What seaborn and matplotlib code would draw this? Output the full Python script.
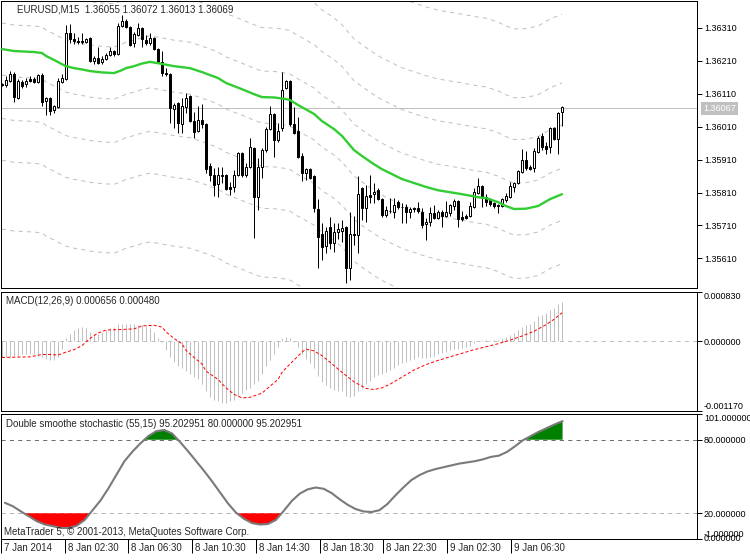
import numpy as np
import pandas as pd
import matplotlib
matplotlib.use("Agg")
import matplotlib.pyplot as plt
import matplotlib.transforms as mtransforms
import seaborn as sns

sns.set_style("white")
plt.rcParams['font.family'] = ['Liberation Sans', 'DejaVu Sans']
plt.rcParams['lines.scale_dashes'] = False
plt.rcParams['axes.linewidth'] = 0.75

# ---------------- data (EURUSD M15) ----------------
open_ = [
    1.36140, 1.36137, 1.36149, 1.36170, 1.36097, 1.36146, 1.36140, 1.36155, 1.36155, 1.36146,
    1.36167, 1.36088, 1.36097, 1.36061, 1.36070, 1.36146, 1.36155, 1.36295, 1.36276, 1.36270,
    1.36270, 1.36267, 1.36279, 1.36210, 1.36219, 1.36207, 1.36216, 1.36228, 1.36240, 1.36231,
    1.36316, 1.36331, 1.36313, 1.36264, 1.36289, 1.36310, 1.36273, 1.36264, 1.36279, 1.36246,
    1.36207, 1.36173, 1.36170, 1.36064, 1.36082, 1.36018, 1.36070, 1.36103, 1.36027, 1.35997,
    1.36030, 1.36018, 1.35890, 1.35863, 1.35836, 1.35863, 1.35863, 1.35827, 1.35827, 1.35863,
    1.35930, 1.35863, 1.35887, 1.35945, 1.35796, 1.35887, 1.35939, 1.36003, 1.36049, 1.35969,
    1.36006, 1.36127, 1.36149, 1.36018, 1.35997, 1.35921, 1.35869, 1.35881, 1.35860, 1.35760,
    1.35684, 1.35647, 1.35705, 1.35656, 1.35690, 1.35693, 1.35705, 1.35580, 1.35684, 1.35681,
    1.35824, 1.35763, 1.35802, 1.35805, 1.35817, 1.35790, 1.35741, 1.35754, 1.35751, 1.35781,
    1.35766, 1.35766, 1.35751, 1.35763, 1.35763, 1.35751, 1.35714, 1.35720, 1.35747, 1.35732,
    1.35751, 1.35738, 1.35747, 1.35769, 1.35784, 1.35735, 1.35738, 1.35738, 1.35766, 1.35808,
    1.35830, 1.35796, 1.35787, 1.35778, 1.35772, 1.35769, 1.35787, 1.35796, 1.35827, 1.35839,
    1.35872, 1.35909, 1.35887, 1.35884, 1.35933, 1.35982, 1.35951, 1.35948, 1.36006, 1.35972,
    1.36055]
high_ = [
    1.36143, 1.36164, 1.36179, 1.36176, 1.36155, 1.36152, 1.36158, 1.36164, 1.36161, 1.36170,
    1.36173, 1.36100, 1.36100, 1.36076, 1.36158, 1.36170, 1.36319, 1.36322, 1.36295, 1.36283,
    1.36295, 1.36279, 1.36283, 1.36225, 1.36252, 1.36225, 1.36234, 1.36252, 1.36243, 1.36325,
    1.36349, 1.36337, 1.36316, 1.36298, 1.36325, 1.36313, 1.36289, 1.36295, 1.36283, 1.36249,
    1.36240, 1.36188, 1.36173, 1.36082, 1.36085, 1.36097, 1.36112, 1.36106, 1.36055, 1.36073,
    1.36079, 1.36021, 1.35900, 1.35884, 1.35887, 1.35887, 1.35866, 1.35842, 1.35878, 1.35933,
    1.35933, 1.35900, 1.35975, 1.35948, 1.35915, 1.35945, 1.36009, 1.36073, 1.36052, 1.36021,
    1.36176, 1.36152, 1.36152, 1.36070, 1.36039, 1.35930, 1.35884, 1.35884, 1.35863, 1.35790,
    1.35717, 1.35705, 1.35735, 1.35717, 1.35717, 1.35726, 1.35708, 1.35751, 1.35738, 1.35860,
    1.35827, 1.35833, 1.35863, 1.35839, 1.35824, 1.35793, 1.35769, 1.35793, 1.35793, 1.35787,
    1.35778, 1.35775, 1.35766, 1.35766, 1.35781, 1.35763, 1.35732, 1.35766, 1.35772, 1.35757,
    1.35757, 1.35784, 1.35775, 1.35790, 1.35787, 1.35754, 1.35744, 1.35781, 1.35824, 1.35854,
    1.35833, 1.35805, 1.35793, 1.35781, 1.35775, 1.35793, 1.35808, 1.35842, 1.35842, 1.35878,
    1.35942, 1.35936, 1.35893, 1.35945, 1.35982, 1.35991, 1.35963, 1.36009, 1.36009, 1.36055,
    1.36072]
low_ = [
    1.36134, 1.36131, 1.36146, 1.36085, 1.36094, 1.36127, 1.36131, 1.36146, 1.36143, 1.36143,
    1.36073, 1.36045, 1.36045, 1.36052, 1.36067, 1.36143, 1.36152, 1.36264, 1.36261, 1.36261,
    1.36261, 1.36264, 1.36207, 1.36200, 1.36200, 1.36200, 1.36213, 1.36225, 1.36225, 1.36228,
    1.36313, 1.36310, 1.36255, 1.36252, 1.36286, 1.36252, 1.36258, 1.36258, 1.36243, 1.36203,
    1.36164, 1.36164, 1.36021, 1.36006, 1.35991, 1.35991, 1.36052, 1.36024, 1.35975, 1.35994,
    1.36006, 1.35869, 1.35845, 1.35799, 1.35796, 1.35839, 1.35817, 1.35802, 1.35811, 1.35860,
    1.35857, 1.35857, 1.35884, 1.35672, 1.35757, 1.35854, 1.35933, 1.36000, 1.35918, 1.35963,
    1.35997, 1.36124, 1.36012, 1.35988, 1.35915, 1.35845, 1.35848, 1.35851, 1.35751, 1.35580,
    1.35605, 1.35626, 1.35638, 1.35629, 1.35669, 1.35659, 1.35535, 1.35544, 1.35650, 1.35626,
    1.35726, 1.35720, 1.35778, 1.35778, 1.35787, 1.35735, 1.35735, 1.35747, 1.35732, 1.35760,
    1.35717, 1.35717, 1.35732, 1.35751, 1.35747, 1.35702, 1.35665, 1.35708, 1.35729, 1.35729,
    1.35705, 1.35735, 1.35738, 1.35757, 1.35705, 1.35723, 1.35729, 1.35735, 1.35763, 1.35805,
    1.35766, 1.35769, 1.35769, 1.35763, 1.35747, 1.35766, 1.35781, 1.35793, 1.35811, 1.35836,
    1.35869, 1.35878, 1.35878, 1.35872, 1.35930, 1.35939, 1.35927, 1.35930, 1.35969, 1.35927,
    1.36013]
close_ = [
    1.36137, 1.36152, 1.36170, 1.36100, 1.36149, 1.36134, 1.36149, 1.36149, 1.36146, 1.36167,
    1.36085, 1.36097, 1.36058, 1.36073, 1.36149, 1.36158, 1.36295, 1.36276, 1.36270, 1.36267,
    1.36268, 1.36276, 1.36210, 1.36219, 1.36203, 1.36216, 1.36228, 1.36240, 1.36231, 1.36316,
    1.36331, 1.36313, 1.36258, 1.36292, 1.36310, 1.36276, 1.36264, 1.36279, 1.36246, 1.36207,
    1.36173, 1.36170, 1.36067, 1.36076, 1.36021, 1.36073, 1.36097, 1.36027, 1.35994, 1.36030,
    1.36018, 1.35881, 1.35863, 1.35833, 1.35863, 1.35860, 1.35820, 1.35820, 1.35863, 1.35930,
    1.35863, 1.35887, 1.35948, 1.35796, 1.35887, 1.35939, 1.36003, 1.36049, 1.35969, 1.35997,
    1.36121, 1.36149, 1.36018, 1.35991, 1.35918, 1.35869, 1.35881, 1.35854, 1.35763, 1.35675,
    1.35644, 1.35693, 1.35656, 1.35690, 1.35699, 1.35702, 1.35580, 1.35684, 1.35681, 1.35805,
    1.35763, 1.35799, 1.35796, 1.35811, 1.35790, 1.35741, 1.35757, 1.35755, 1.35772, 1.35766,
    1.35767, 1.35751, 1.35760, 1.35760, 1.35754, 1.35711, 1.35720, 1.35747, 1.35732, 1.35751,
    1.35738, 1.35751, 1.35772, 1.35784, 1.35729, 1.35729, 1.35732, 1.35769, 1.35811, 1.35830,
    1.35796, 1.35781, 1.35775, 1.35769, 1.35770, 1.35790, 1.35799, 1.35830, 1.35839, 1.35875,
    1.35909, 1.35884, 1.35881, 1.35936, 1.35975, 1.35948, 1.35942, 1.36006, 1.35972, 1.36052,
    1.36069]

# green moving average (read at selected bars)
ma_idx = [0, 3, 8, 10, 11, 13, 15, 16, 18, 20, 22, 25, 28, 30, 31, 33, 35, 37, 39, 43,
          47, 50, 54, 56, 60, 63, 65, 68, 71, 72, 74, 78, 80, 83, 85, 88, 90, 93, 95, 98,
          100, 103, 106, 109, 112, 115, 119, 121, 124, 126, 128, 131, 134, 137, 140]
ma_val = [1.36246, 1.36240, 1.36237, 1.36234, 1.36225, 1.36213, 1.36200, 1.36194, 1.36188, 1.36184,
          1.36179, 1.36175, 1.36173, 1.36182, 1.36188, 1.36194, 1.36202, 1.36207, 1.36203, 1.36194,
          1.36188, 1.36176, 1.36158, 1.36143, 1.36124, 1.36109, 1.36100, 1.36099, 1.36094, 1.36091,
          1.36076, 1.36049, 1.36027, 1.36003, 1.35982, 1.35939, 1.35921, 1.35896, 1.35881, 1.35863,
          1.35851, 1.35839, 1.35827, 1.35817, 1.35811, 1.35805, 1.35796, 1.35793, 1.35781, 1.35769,
          1.35760, 1.35761, 1.35769, 1.35790, 1.35805]
# envelope distances of the dotted bands around the average
env_offsets = [0.00079, 0.00211, 0.00338, 0.00547]

price_ticks = [1.36310, 1.36210, 1.36110, 1.36010, 1.35910, 1.35810, 1.35710, 1.35610]
last_price = 1.36067

# MACD histogram (main line) and signal
macd_hist = [
    -0.00027, -0.00027, -0.00027, -0.00024, -0.00024, -0.00021, -0.00021, -0.00021, -0.00022, -0.00024,
    -0.00027, -0.00029, -0.00031, -0.00031, -0.00027, -0.00013, 0.00005, 0.00013, 0.00019, 0.00022,
    0.00025, 0.00022, 0.00016, 0.00013, 0.00013, 0.00016, 0.00019, 0.00022, 0.00025, 0.00030,
    0.00030, 0.00030, 0.00030, 0.00029, 0.00027, 0.00027, 0.00026, 0.00023, 0.00016, 0.00005,
    -0.00001, -0.00015, -0.00027, -0.00035, -0.00041, -0.00044, -0.00050, -0.00055, -0.00060, -0.00064,
    -0.00072, -0.00084, -0.00094, -0.00098, -0.00101, -0.00104, -0.00104, -0.00101, -0.00098, -0.00092,
    -0.00087, -0.00081, -0.00078, -0.00072, -0.00067, -0.00055, -0.00041, -0.00032, -0.00021, -0.00010,
    0.00005, 0.00007, 0.00005, -0.00001, -0.00010, -0.00022, -0.00030, -0.00037, -0.00045, -0.00058,
    -0.00068, -0.00073, -0.00079, -0.00082, -0.00083, -0.00084, -0.00092, -0.00093, -0.00092, -0.00083,
    -0.00078, -0.00072, -0.00066, -0.00060, -0.00056, -0.00054, -0.00051, -0.00048, -0.00044, -0.00040,
    -0.00037, -0.00035, -0.00032, -0.00030, -0.00027, -0.00028, -0.00028, -0.00026, -0.00024, -0.00022,
    -0.00020, -0.00018, -0.00015, -0.00012, -0.00012, -0.00011, -0.00010, -0.00007, -0.00003, 0.00001,
    0.00002, 0.00003, 0.00003, 0.00003, 0.00003, 0.00005, 0.00007, 0.00011, 0.00014, 0.00019,
    0.00025, 0.00028, 0.00030, 0.00035, 0.00042, 0.00045, 0.00047, 0.00053, 0.00056, 0.00062,
    0.000656]
sig_idx = [0, 7, 10, 12, 14, 16, 18, 20, 22, 24, 26, 30, 33, 35, 38, 40, 41, 43, 45, 46,
           48, 50, 51, 54, 56, 58, 60, 62, 65, 66, 69, 70, 72, 75, 76, 78, 80, 82, 85, 88,
           91, 93, 95, 97, 100, 103, 106, 109, 112, 115, 118, 121, 124, 127, 130, 133, 136, 138, 140]
sig_val = [-0.00027, -0.00026, -0.00022, -0.00022, -0.00023, -0.00018, -0.00014, -0.00007, 0.00005, 0.00014,
           0.00019, 0.00020, 0.00021, 0.00026, 0.00027, 0.00024, 0.00016, 0.00005, -0.00004, -0.00015,
           -0.00027, -0.00038, -0.00050, -0.00064, -0.00078, -0.00089, -0.00095, -0.00094, -0.00087, -0.00081,
           -0.00064, -0.00052, -0.00038, -0.00018, -0.00013, -0.00016, -0.00024, -0.00035, -0.00052, -0.00068,
           -0.00079, -0.00081, -0.00078, -0.00072, -0.00060, -0.00048, -0.00039, -0.00032, -0.00026, -0.00020,
           -0.00014, -0.00009, -0.00004, 0.00002, 0.00009, 0.00017, 0.00028, 0.00037, 0.00048]
macd_ticks = [0.00083, 0.0, -0.00117]
macd_labels = ["0.000830", "0.000000", "-0.001170"]

# Double smoothed stochastic
stoch_idx = list(range(0, 141, 2))
stoch_val = [28.5, 25.7, 21.5, 17.5, 13.5, 10.8, 9.5, 8.0, 8.0, 9.8,
             14.5, 22.5, 30.5, 40.5, 51.5, 62.5, 70.3, 77.0, 83.0, 87.0,
             88.0, 85.0, 78.0, 70.5, 62.5, 54.5, 46.0, 37.0, 28.0, 20.5,
             15.5, 12.0, 10.8, 11.2, 14.5, 22.0, 30.0, 36.0, 39.5, 41.0,
             40.0, 36.5, 31.5, 27.0, 23.5, 21.5, 21.0, 22.5, 27.5, 34.5,
             41.0, 47.0, 51.0, 54.0, 56.0, 57.5, 59.0, 60.5, 61.5, 62.5,
             64.0, 66.0, 67.0, 70.0, 74.5, 79.5, 83.0, 86.5, 89.5, 92.5,
             95.2]
stoch_ticks = [101, 80, 20, 0, -1]
stoch_labels = ["101.000000", "80.000000", "20.000000", "0.000000", "-1.000000"]

time_idx = [-1, 15, 31, 47, 63, 79, 95, 111, 127]
time_labels = ["7 Jan 2014", "8 Jan 02:30", "8 Jan 06:30", "8 Jan 10:30", "8 Jan 14:30",
               "8 Jan 18:30", "8 Jan 22:30", "9 Jan 02:30", "9 Jan 06:30"]

# ---------------- figure ----------------
W, H = 750, 560
fig = plt.figure(figsize=(W / 100, H / 100), dpi=100)
fig.patch.set_facecolor("white")


def rect(top, bottom, left=1, right=697):
    return [left / W, 1 - bottom / H, (right - left) / W, (bottom - top) / H]


ax1 = fig.add_axes(rect(1, 288))
ax2 = fig.add_axes(rect(292, 411))
ax3 = fig.add_axes(rect(414, 539))
FS = 7      # captions and time labels
FSY = 6.5   # price scale labels
PX = 0.72   # one pixel in points

# ---- main price panel ----
bars = pd.DataFrame({"i": np.arange(len(close_)), "open": open_, "high": high_,
                     "low": low_, "close": close_})
up = bars["close"] >= bars["open"]
ax1.axhline(last_price, color="#c0c0c0", lw=PX, zorder=1)
ma = pd.DataFrame({"i": ma_idx, "ma": ma_val})
for off in env_offsets:
    for sgn in (1, -1):
        sns.lineplot(x=ma["i"], y=ma["ma"] + sgn * off, ax=ax1, color="#c0c0c0",
                     linewidth=PX, linestyle=(0, (3, 3)), zorder=1)
ax1.vlines(bars["i"], bars["low"], bars["high"], color="black", lw=PX, zorder=3)
ax1.bar(bars["i"][up], (bars["close"] - bars["open"])[up], bottom=bars["open"][up],
        width=0.5, facecolor="white", edgecolor="black", linewidth=PX, zorder=4)
ax1.bar(bars["i"][~up], (bars["close"] - bars["open"])[~up], bottom=bars["open"][~up],
        width=0.5, facecolor="black", edgecolor="black", linewidth=PX, zorder=4)
sns.lineplot(data=ma, x="i", y="ma", ax=ax1, color="#32cd32", linewidth=1.7, zorder=5)
ax1.set_ylim(1.35520, 1.36392)
ax1.set_yticks(price_ticks)
ax1.set_yticklabels([f"{v:.5f}" for v in price_ticks])

# ---- MACD panel ----
ax2.axhline(0, color="#c0c0c0", lw=PX, linestyle=(0, (3, 3)), zorder=1)
ax2.vlines(np.arange(len(macd_hist)), 0, macd_hist, color="#c0c0c0", lw=PX, zorder=2)
sns.lineplot(x=sig_idx, y=sig_val, ax=ax2, color="red", linewidth=PX,
             linestyle=(0, (2.2, 1.5)), zorder=3)
ax2.set_ylim(-0.00117, 0.00083)
ax2.set_yticks(macd_ticks)
ax2.set_yticklabels(macd_labels)

# ---- stochastic panel ----
sv = np.array(stoch_val)
si = np.array(stoch_idx)
ax3.axhline(80, color="#707070", lw=PX, linestyle=(0, (3, 3)), zorder=1)
ax3.axhline(20, color="#b4b4b4", lw=PX, linestyle=(0, (3, 3)), zorder=1)
ax3.fill_between(si, sv, 80, where=sv > 80, interpolate=True, color="#008000", lw=0, zorder=2)
ax3.fill_between(si, sv, 20, where=sv < 20, interpolate=True, color="#ff0000", lw=0, zorder=2)
sns.lineplot(x=si, y=sv, ax=ax3, color="#7a7a7a", linewidth=1.5, zorder=3)
ax3.set_ylim(-1, 101)
ax3.set_yticks(stoch_ticks)
ax3.set_yticklabels(stoch_labels)

# ---- common axis styling ----
for ax in (ax1, ax2, ax3):
    ax.set_xlim(-0.25, 173.75)
    ax.set_facecolor("white")
    ax.grid(False)
    ax.set_xlabel("")
    ax.set_ylabel("")
    for s in ax.spines.values():
        s.set_visible(True)
        s.set_color("black")
        s.set_linewidth(PX)
    ax.tick_params(axis="y", which="both", direction="out", length=3.5, width=PX, pad=1.5,
                   labelsize=FSY, colors="black", left=False, right=True,
                   labelleft=False, labelright=True)
    ax.set_xticks([])

# edge labels kept inside their panels
for ax in (ax2, ax3):
    lbls = ax.get_yticklabels()
    lbls[0].set_verticalalignment("top")
    lbls[-1].set_verticalalignment("bottom")
ticks2 = ax2.yaxis.get_major_ticks()
ticks2[1].tick2line.set_color("#c0c0c0")
ticks3 = ax3.yaxis.get_major_ticks()
ticks3[1].tick2line.set_color("#707070")
ticks3[2].tick2line.set_color("#b4b4b4")
ticks3[3].tick2line.set_visible(False)

# time axis
ax3.set_xticks(time_idx)
ax3.tick_params(axis="x", direction="out", length=10, width=PX, colors="black",
                bottom=True, labelbottom=False)
base = mtransforms.blended_transform_factory(ax3.transData, ax3.transAxes)
lab_tr = mtransforms.offset_copy(base, fig=fig, x=3, y=-9, units="dots")
for pos, lab in zip(time_idx, time_labels):
    ax3.text(pos, 0, lab, transform=lab_tr, ha="left", va="center", fontsize=FS, clip_on=False)

# current price label
fig.text(703 / W, 1 - 108.5 / H, f"{last_price:.5f}", color="white", fontsize=FSY,
         ha="left", va="center",
         bbox=dict(boxstyle="square,pad=0.25", facecolor="#c0c0c0", edgecolor="none"))

# panel captions
fig.text(17 / W, 1 - 10 / H, "EURUSD,M15  1.36055 1.36072 1.36013 1.36069",
         fontsize=FS, ha="left", va="center")
fig.text(6 / W, 1 - 301 / H, "MACD(12,26,9) 0.000656 0.000480",
         fontsize=FS, ha="left", va="center")
fig.text(6 / W, 1 - 424 / H, "Double smoothe stochastic (55,15) 95.202951 80.000000 95.202951",
         fontsize=FS, ha="left", va="center")
fig.text(4 / W, 1 - 532 / H, "MetaTrader 5, © 2001-2013, MetaQuotes Software Corp.",
         fontsize=FS, ha="left", va="center")

fig.savefig("out.png", dpi=100, facecolor="white")
